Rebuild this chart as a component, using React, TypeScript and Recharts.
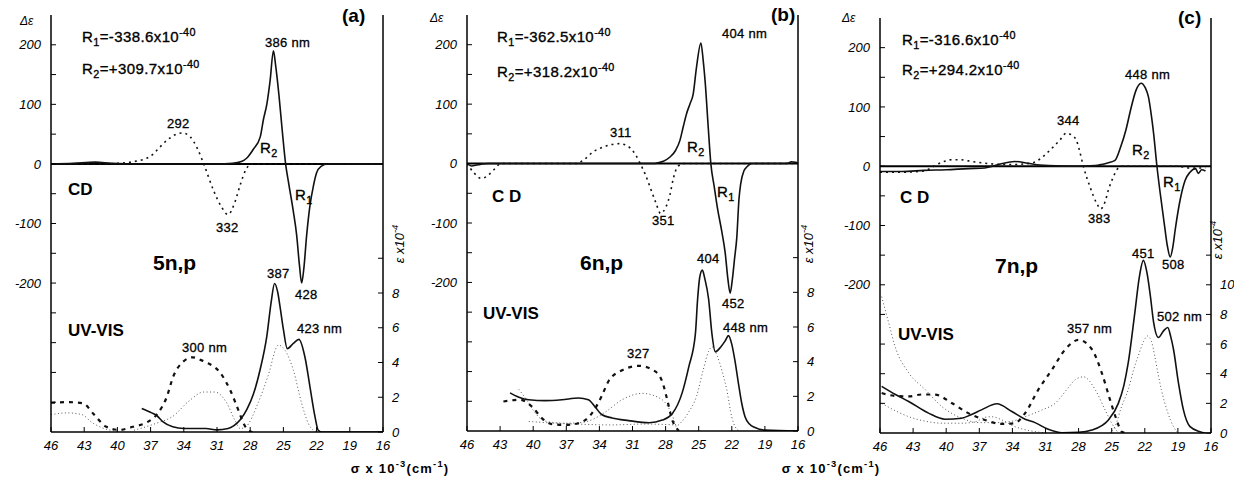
import { LineChart, Line, XAxis, YAxis, ReferenceLine } from 'recharts';

type Pt = [number, number];

const FONT = '"Liberation Sans", Arial, Helvetica, sans-serif';

// axis ticks
const xTicks = [46, 43, 40, 37, 34, 31, 28, 25, 22, 19, 16];
const cdTicks = [-400, -350, -300, -250, -200, -150, -100, -50, 0, 50, 100, 150, 200];
const cdLabels = [200, 100, 0, -100, -200];
const epsTicksAB = [0, 2, 4, 6, 8, 10];
const epsLabelsAB = [0, 2, 4, 6, 8];
const epsTicksC = [0, 2, 4, 6, 8, 10, 12];
const epsLabelsC = [0, 2, 4, 6, 8, 10];

// ---- panel (a) 5n,p ----
const aCdSolid: Pt[] = [
    [46, 0], [44, 1], [42, 3], [40.5, 1], [38, 0], [31, 0], [29.6, 1], [28.8, 4], [28.3, 10], [27.7, 25],
    [27.1, 45], [26.8, 75], [26.5, 100], [26.2, 140], [25.9, 190], [25.7, 165], [25.4, 115], [25.1, 55],
    [24.8, 0], [24.5, -35], [24.1, -80], [23.8, -120], [23.55, -170], [23.35, -200], [23.15, -175],
    [22.9, -120], [22.6, -70], [22.3, -38], [22.0, -15], [21.6, -4], [21.0, 0], [16, 0],
];
const aCdDotted: Pt[] = [
    [46, 0], [41, 0], [40, 1], [38.5, 4], [37.1, 12], [35.5, 40], [34.8, 49], [34.1, 52], [33.4, 45],
    [32.8, 27], [32.2, 0], [31.3, -45], [30.6, -72], [30.0, -85], [29.4, -65], [28.9, -35], [28.4, -10],
    [27.9, 0], [16, 0],
];
const aUvSolid: Pt[] = [
    [37.8, 1.35], [36.9, 1.1], [36.45, 0.95], [35.9, 0.6], [35.0, 0.3], [34, 0.2], [32, 0.2], [31, 0.12],
    [30, 0.2], [29.5, 0.35], [28.9, 0.7], [28.3, 1.3], [27.7, 2.2], [27.1, 3.6], [26.5, 5.5], [26.1, 7.5],
    [25.8, 8.55], [25.5, 8.0], [25.3, 7.2], [25.0, 5.9], [24.65, 4.8], [24.1, 5.1], [23.6, 5.33],
    [23.05, 4.3], [22.6, 2.6], [22.15, 0.9], [21.85, 0.1], [21.5, 0], [16, 0],
];
const aUvDashed: Pt[] = [
    [46, 1.68], [44.5, 1.72], [43.1, 1.65], [42.2, 1.07], [41.0, 0.3], [39.8, 0.12], [38.6, 0.3],
    [37.35, 0.55], [36.45, 1.0], [35.55, 2.0], [34.95, 3.2], [34.05, 4.05], [33.2, 4.3], [32.5, 4.15],
    [31.95, 4.0], [30.7, 3.4], [29.8, 2.4], [29.07, 1.26], [28.6, 0.5], [28.2, 0.1], [27.8, 0],
];
const aUvDotted1: Pt[] = [
    [46, 1.0], [44.5, 1.1], [43.2, 1.0], [42.3, 0.55], [41.2, 0.2], [40, 0.05],
];
const aUvDotted2: Pt[] = [
    [38.5, 0.1], [36.5, 0.5], [35, 0.9], [33.5, 1.8], [32.2, 2.3], [31.2, 2.3], [30.1, 1.65], [29.4, 0.7],
    [28.9, 0.2], [28.4, 0.3], [27.3, 1.65], [26.4, 3.2], [25.45, 5.0], [24.85, 4.7], [24.1, 3.56],
    [23.35, 1.65], [22.75, 0.5], [22.3, 0.1], [21.8, 0],
];

// ---- panel (b) 6n,p ----
const bCdSolid: Pt[] = [
    [46, 0], [45.6, -4], [45, -2], [44, 0], [29, 0], [28.8, 1], [28.2, 4], [27.6, 11], [27.1, 22],
    [26.7, 39], [26.4, 62], [26.1, 84], [25.8, 100], [25.5, 117], [25.2, 162], [24.8, 203], [24.6, 175],
    [24.4, 134], [24.15, 65], [23.9, 0], [23.6, -38], [23.3, -75], [22.9, -115], [22.6, -150],
    [22.35, -195], [22.15, -218], [21.95, -195], [21.75, -160], [21.55, -125], [21.35, -60], [21.2, -35],
    [20.9, -12], [20.6, -5], [20.2, 0], [17, 0], [16.6, 3], [16.2, 2], [16, 1],
];
const bCdDotted: Pt[] = [
    [46, 0], [45.4, -15], [44.7, -25], [44.1, -20], [43.6, -11], [42.9, 0], [36.1, 0], [35.3, 8],
    [34.55, 20], [33.6, 28], [32.9, 32], [32.15, 33.5], [31.6, 31], [31.2, 26], [30.7, 14], [30.3, 0],
    [29.8, -20], [29.4, -40], [28.9, -65], [28.45, -84], [28.0, -74], [27.6, -52], [27.3, -25],
    [26.85, -4], [26.3, 0], [16, 0],
];
const bUvSolid: Pt[] = [
    [42.1, 2.2], [41.3, 1.95], [40.4, 1.8], [38.9, 1.75], [37.4, 1.8], [35.9, 1.9], [35.0, 1.8],
    [34.4, 1.4], [33.8, 0.95], [32.85, 0.75], [31.35, 0.6], [29.5, 0.48], [28.3, 0.63], [27.4, 1.0],
    [26.5, 2.2], [25.9, 3.7], [25.3, 5.6], [25.1, 7.6], [24.9, 8.9], [24.67, 9.28], [24.45, 8.8],
    [24.1, 7.6], [23.8, 5.6], [23.5, 4.57], [23.0, 4.85], [22.6, 5.2], [22.3, 5.5], [22.0, 5.0],
    [21.7, 4.0], [21.4, 2.75], [21.1, 1.6], [20.8, 0.82], [20.4, 0.4], [19.9, 0.2], [19, 0.05], [16, 0],
];
const bUvDashed: Pt[] = [
    [42.7, 1.7], [41.2, 1.8], [40.1, 1.4], [39.2, 0.73], [38.3, 0.4], [37.1, 0.35], [35.9, 0.45],
    [34.7, 1.0], [33.8, 2.0], [33.15, 2.9], [31.95, 3.5], [30.43, 3.76], [28.9, 3.42], [28.3, 2.84],
    [27.85, 1.8], [27.4, 0.63], [27.1, 0.25], [26.8, 0],
];
const bUvDotted1: Pt[] = [
    [41.3, 2.4], [40.6, 1.8], [40.0, 1.2], [39.2, 0.65], [38.3, 0.5], [37, 0.45], [35.5, 0.5], [34.5, 0.7],
    [33.45, 1.1], [31.95, 1.8], [30.1, 2.17], [28.3, 1.8], [27.4, 0.92], [27.0, 0.3], [26.6, 0.5],
    [25.9, 1.1], [25.2, 2.0], [24.6, 3.5], [24.1, 4.6], [23.8, 4.86], [23.3, 4.3], [22.9, 3.5],
    [22.45, 2.36], [22.0, 0.8], [21.7, 0.25], [21.3, 0],
];
const bUvDotted2: Pt[] = [
    [40.4, 0.55], [38, 0.45], [36, 0.4], [33, 0.35], [30, 0.4], [27.2, 0.35], [26.9, 0],
];

// ---- panel (c) 7n,p ----
const cCdSolid: Pt[] = [
    [46, -9], [44, -9], [42, -7], [40, -6], [38, -4], [36.5, -3], [35.8, 0], [35.0, 4], [33.8, 8],
    [32.6, 5], [31.5, 2], [30.7, 1], [28.3, 0], [26.5, 1], [25.9, 3], [25.3, 6], [24.7, 10], [24.2, 32],
    [23.7, 62], [23.3, 94], [22.8, 128], [22.34, 140], [21.95, 132], [21.67, 117], [21.4, 85], [21.2, 55],
    [20.9, 0], [20.6, -46], [20.2, -102], [19.95, -135], [19.7, -153], [19.45, -135], [19.25, -108],
    [18.8, -57], [18.35, -24], [17.9, -10], [17.4, -4], [17.15, -12], [16.85, -6], [16.5, -8],
];
const cCdDotted: Pt[] = [
    [46, -10], [44, -10], [42, -8], [41.3, -2], [40.85, 3], [40.2, 8], [39.5, 11], [38.7, 11], [38.0, 9],
    [36.5, 5], [35, 3], [33.5, 3], [32.9, 4], [32.1, 6], [31.3, 15], [30.6, 27], [29.7, 44], [29.1, 56],
    [28.6, 52], [28.2, 44], [27.9, 25], [27.57, 0], [26.96, -35], [26.35, -63], [26.0, -72], [25.6, -60],
    [25.3, -40], [24.85, -18], [24.5, -5], [24.1, 0], [19, 0], [18, -3], [16.5, -3],
];
const cUvSolid: Pt[] = [
    [45.85, 3.15], [44.6, 2.6], [43.4, 2.13], [41.6, 1.34], [40.1, 0.93], [38.6, 1.0], [37.7, 1.25],
    [36.8, 1.56], [35.4, 1.97], [34.05, 1.45], [32.85, 0.93], [31.95, 0.7], [30.75, 0.25], [29.5, 0.02],
    [28, 0.05], [26.8, 0.2], [25.3, 0.88], [24.4, 2.0], [23.9, 3.2], [23.5, 4.74], [22.9, 8.14],
    [22.5, 10.5], [22.13, 11.65], [21.8, 10.8], [21.5, 9.27], [21.2, 7.46], [20.77, 6.44], [20.3, 6.89],
    [19.92, 7.12], [19.65, 6.5], [19.4, 5.65], [18.95, 3.38], [18.5, 1.56], [17.9, 0.43], [17.0, 0.09],
    [16.5, 0],
];
const cUvDashed: Pt[] = [
    [45.85, 2.7], [44.6, 2.5], [43.4, 2.47], [42.2, 2.6], [41.0, 2.59], [39.5, 2.02], [38.0, 1.34],
    [36.5, 0.88], [35.0, 0.61], [33.8, 0.66], [32.85, 1.34], [31.65, 2.93], [30.4, 4.29], [29.2, 5.65],
    [28.0, 6.28], [26.8, 5.65], [25.9, 4.06], [25.15, 2.24], [24.55, 0.88], [24.1, 0.09], [23.8, 0],
];
const cUvDotted1: Pt[] = [
    [45.85, 9.2], [45.2, 7.4], [44.65, 5.87], [43.4, 4.06], [41.9, 2.93], [40.4, 1.79], [38.6, 1.0],
    [37.0, 0.7], [35.5, 0.7], [34, 0.8], [32.85, 1.1], [31.3, 1.56], [30.1, 2.02], [29.0, 3.0], [28.3, 3.6],
    [27.55, 3.79], [26.5, 2.93], [25.6, 1.56], [25.0, 0.66], [24.5, 0.1],
];
const cUvDotted2: Pt[] = [
    [45.85, 2.0], [44.6, 1.5], [43.4, 1.1], [41.9, 0.8], [40.4, 0.66], [38.6, 0.66], [37.4, 0.75],
    [36.5, 1.05], [35.9, 1.1], [35.0, 0.9], [34, 0.5], [33, 0.25], [32, 0.1], [31, 0],
];
const cUvDotted3: Pt[] = [
    [25.2, 0], [24.7, 0.43], [24.1, 1.79], [23.5, 2.93], [23.0, 4.3], [22.6, 5.19], [22.1, 6.2],
    [21.75, 6.55], [21.4, 6.2], [21.1, 5.19], [20.8, 4.0], [20.5, 2.93], [19.9, 1.34], [19.4, 0.43],
    [19.0, 0],
];

type Style = 'solid' | 'dotted' | 'dashed' | 'fine';
type Curve = { pts: Pt[]; axis: 'cd' | 'uv'; style: Style };

const lineStyles: Record<Style, any> = {
    solid: { stroke: '#111', strokeWidth: 1.6 },
    dotted: { stroke: '#111', strokeWidth: 1.6, strokeDasharray: '2 4' },
    dashed: { stroke: '#111', strokeWidth: 2.2, strokeDasharray: '4 5' },
    fine: { stroke: '#555', strokeWidth: 1, strokeDasharray: '1 2.5' },
};

const panels = [
    {
        id: 'a', left: 51, right: 383, top: 15, bottom: 432, epsMax: 24,
        epsTicks: epsTicksAB, epsLabels: epsLabelsAB,
        curves: [
            { pts: aUvDotted1, axis: 'uv', style: 'fine' },
            { pts: aUvDotted2, axis: 'uv', style: 'fine' },
            { pts: aUvDashed, axis: 'uv', style: 'dashed' },
            { pts: aUvSolid, axis: 'uv', style: 'solid' },
            { pts: aCdDotted, axis: 'cd', style: 'dotted' },
            { pts: aCdSolid, axis: 'cd', style: 'solid' },
        ] as Curve[],
    },
    {
        id: 'b', left: 467, right: 798, top: 15, bottom: 431, epsMax: 24,
        epsTicks: epsTicksAB, epsLabels: epsLabelsAB,
        curves: [
            { pts: bUvDotted1, axis: 'uv', style: 'fine' },
            { pts: bUvDotted2, axis: 'uv', style: 'fine' },
            { pts: bUvDashed, axis: 'uv', style: 'dashed' },
            { pts: bUvSolid, axis: 'uv', style: 'solid' },
            { pts: bCdDotted, axis: 'cd', style: 'dotted' },
            { pts: bCdSolid, axis: 'cd', style: 'solid' },
        ] as Curve[],
    },
    {
        id: 'c', left: 880, right: 1211, top: 18, bottom: 433, epsMax: 28,
        epsTicks: epsTicksC, epsLabels: epsLabelsC,
        curves: [
            { pts: cUvDotted1, axis: 'uv', style: 'fine' },
            { pts: cUvDotted2, axis: 'uv', style: 'fine' },
            { pts: cUvDotted3, axis: 'uv', style: 'fine' },
            { pts: cUvDashed, axis: 'uv', style: 'dashed' },
            { pts: cUvSolid, axis: 'uv', style: 'solid' },
            { pts: cCdDotted, axis: 'cd', style: 'dotted' },
            { pts: cCdSolid, axis: 'cd', style: 'solid' },
        ] as Curve[],
    },
];

// text annotations: [x, y, text, kind]; _{..} = subscript, ^{..} = superscript
type Note = [number, number, string, string];
const notes: Note[] = [
    [20, 25, 'Δε', 'axis'], [82, 42, 'R_{1}=-338.6x10^{-40}', 'r'], [82, 74, 'R_{2}=+309.7x10^{-40}', 'r'],
    [342, 22, '(a)', 'tag'], [265, 47, '386 nm', 'n'], [167, 128, '292', 'n'], [216, 232, '332', 'n'],
    [260, 153, 'R_{2}', 'r'], [295, 200, 'R_{1}', 'r'], [68, 195, 'CD', 'big'], [153, 270, '5n,p', 'name'],
    [267, 278, '387', 'n'], [295, 299, '428', 'n'], [68, 336, 'UV-VIS', 'big'], [297, 333, '423 nm', 'n'],
    [182, 352, '300 nm', 'n'],

    [430, 22, 'Δε', 'axis'], [497, 42, 'R_{1}=-362.5x10^{-40}', 'r'], [497, 77, 'R_{2}=+318.2x10^{-40}', 'r'],
    [771, 21, '(b)', 'tag'], [722, 38, '404 nm', 'n'], [610, 137, '311', 'n'], [652, 225, '351', 'n'],
    [687, 152, 'R_{2}', 'r'], [717, 197, 'R_{1}', 'r'], [492, 202, 'C D', 'big'], [580, 270, '6n,p', 'name'],
    [697, 263, '404', 'n'], [722, 308, '452', 'n'], [723, 332, '448 nm', 'n'], [483, 319, 'UV-VIS', 'big'],
    [627, 358, '327', 'n'],

    [842, 22, 'Δε', 'axis'], [902, 45, 'R_{1}=-316.6x10^{-40}', 'r'], [902, 75, 'R_{2}=+294.2x10^{-40}', 'r'],
    [1178, 24, '(c)', 'tag'], [1125, 79, '448 nm', 'n'], [1057, 125, '344', 'n'], [1088, 223, '383', 'n'],
    [1132, 155, 'R_{2}', 'r'], [1163, 187, 'R_{1}', 'r'], [900, 203, 'C D', 'big'], [995, 273, '7n,p', 'name'],
    [1132, 258, '451', 'n'], [1162, 269, '508', 'n'], [1157, 321, '502 nm', 'n'], [898, 340, 'UV-VIS', 'big'],
    [1067, 333, '357 nm', 'n'],
];
const epsTitles: [number, number][] = [[404, 244], [813, 244], [1222, 240]];
const sigmaTitles: [number, number][] = [[400, 473], [831, 473]];

const noteStyle: Record<string, any> = {
    axis: { fontSize: 12, fontStyle: 'italic' },
    r: { fontSize: 15, letterSpacing: 0.4, stroke: '#000', strokeWidth: 0.35 },
    tag: { fontSize: 19, fontWeight: 700 },
    n: { fontSize: 13, letterSpacing: 0.3, stroke: '#000', strokeWidth: 0.3 },
    big: { fontSize: 17, fontWeight: 700 },
    name: { fontSize: 21, fontWeight: 700 },
};

function Rich({ text }: { text: string }) {
    const parts = text.split(/(_\{[^}]*\}|\^\{[^}]*\})/).filter(Boolean);
    let shift = 0;
    return (
        <>
            {parts.map((p, i) => {
                let dy = -shift;
                if (p.startsWith('_{')) {
                    dy += 4; shift = 4;
                    return <tspan key={i} dy={dy} fontSize="0.72em">{p.slice(2, -1)}</tspan>;
                }
                if (p.startsWith('^{')) {
                    dy += -6; shift = -6;
                    return <tspan key={i} dy={dy} fontSize="0.72em">{p.slice(2, -1)}</tspan>;
                }
                shift = 0;
                return <tspan key={i} dy={dy}>{p}</tspan>;
            })}
        </>
    );
}

const rows = (pts: Pt[]) => pts.map(([x, y]) => ({ x, y }));
const tickFont = { fontSize: 13, fontStyle: 'italic', fill: '#000', fontFamily: FONT };
const frame = { stroke: '#000', strokeWidth: 1.5 };

function Panel({ p }: { p: (typeof panels)[number] }) {
    const lw = 50, rw = 40, xh = 30;
    const w = p.right - p.left + lw + rw;
    return (
        <div style={{ position: 'absolute', left: p.left - lw, top: 0 }}>
            <LineChart width={w} height={484} margin={{ top: p.top, right: 0, bottom: 484 - p.bottom - xh, left: 0 }}>
                <XAxis type="number" dataKey="x" domain={[16, 46]} reversed ticks={xTicks} interval={0}
                    allowDataOverflow height={xh} axisLine={frame} tickSize={-5} tickMargin={14}
                    tickLine={{ stroke: '#000' }} tick={tickFont} />
                <XAxis xAxisId="top" orientation="top" type="number" dataKey="x" domain={[16, 46]} reversed
                    height={0} axisLine={frame} tick={false} tickLine={false} />
                <YAxis yAxisId="cd" orientation="left" width={lw} domain={[-450, 250]} ticks={cdTicks}
                    interval={0} allowDataOverflow axisLine={frame} tickSize={-5} tickMargin={15}
                    tickLine={{ stroke: '#000' }} tick={tickFont}
                    tickFormatter={(v: number) => (cdLabels.includes(v) ? String(v) : '')} />
                <YAxis yAxisId="uv" orientation="right" width={rw} domain={[0, p.epsMax]} ticks={p.epsTicks}
                    interval={0} allowDataOverflow axisLine={frame} tickSize={-5} tickMargin={14}
                    tickLine={{ stroke: '#000' }} tick={tickFont}
                    tickFormatter={(v: number) => (p.epsLabels.includes(v) ? String(v) : '')} />
                <ReferenceLine yAxisId="cd" y={0} stroke="#000" strokeWidth={2} />
                {p.curves.map((c, i) => (
                    <Line key={i} data={rows(c.pts)} dataKey="y" yAxisId={c.axis} type="monotone"
                        dot={false} activeDot={false} isAnimationActive={false} {...lineStyles[c.style]} />
                ))}
            </LineChart>
        </div>
    );
}

export default function App() {
    return (
        <div style={{ position: 'absolute', left: 0, top: 0, width: 1234, height: 484, background: '#fff', fontFamily: FONT }}>
            {panels.map(p => <Panel key={p.id} p={p} />)}
            <svg width={1234} height={484} style={{ position: 'absolute', left: 0, top: 0, pointerEvents: 'none' }}
                fontFamily={FONT} fill="#000">
                {notes.map(([x, y, t, k], i) => (
                    <text key={i} x={x} y={y} {...noteStyle[k]}><Rich text={t} /></text>
                ))}
                {epsTitles.map(([x, y], i) => (
                    <text key={'e' + i} x={0} y={0} fontSize={13} fontStyle="italic"
                        textAnchor="middle" transform={`translate(${x},${y}) rotate(-90)`}>
                        <Rich text="ε x10^{-4}" />
                    </text>
                ))}
                {sigmaTitles.map(([x, y], i) => (
                    <text key={'s' + i} x={x} y={y} fontSize={13} fontWeight={700} letterSpacing={1.2}
                        textAnchor="middle">
                        <Rich text="σ x 10^{-3}(cm^{-1})" />
                    </text>
                ))}
            </svg>
        </div>
    );
}
